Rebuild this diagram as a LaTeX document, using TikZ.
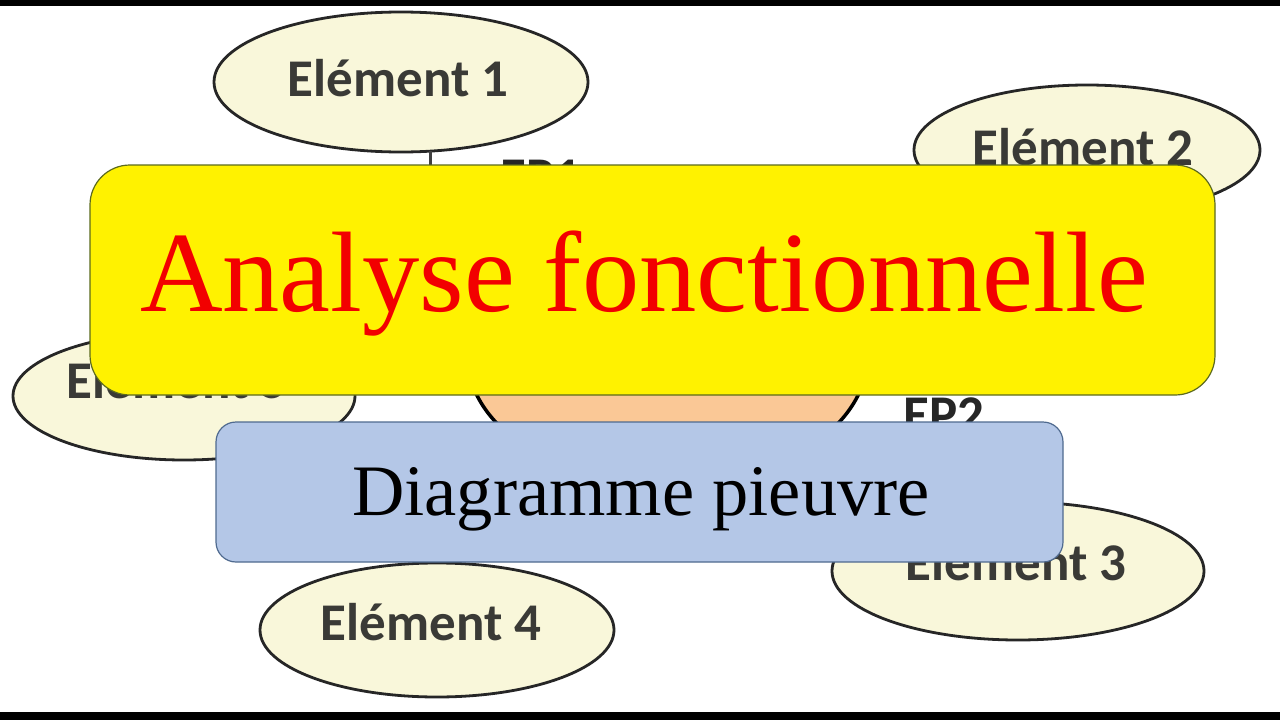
\documentclass[tikz,border=0pt]{standalone}
\usepackage{fontspec}
\setmainfont{Liberation Serif}
\newfontfamily\elfont{Carlito}
\usetikzlibrary{shapes.geometric}
\definecolor{cream}{HTML}{F9F7DA}
\definecolor{eltext}{HTML}{3A3A36}
\definecolor{orangefill}{HTML}{FAC896}
\definecolor{ybord}{HTML}{5C6A1E}
\definecolor{bluefill}{HTML}{B4C7E7}
\definecolor{bbord}{HTML}{4F6A8F}
\definecolor{titlered}{HTML}{F20000}
\tikzset{
  elem/.style={ellipse, draw=black!85, line width=2.8pt, fill=cream, inner sep=0pt},
  eltxt/.style={text=eltext, font=\elfont\bfseries\fontsize{53}{58}\selectfont, anchor=base, inner sep=0pt},
  eplabel/.style={text=black!85, font=\elfont\bfseries\fontsize{53}{58}\selectfont, anchor=base, inner sep=0pt},
  link/.style={draw=black!75, line width=3pt},
  titlebox/.style={rectangle, rounded corners=40pt, fill=yellow, draw=ybord, line width=1.2pt, inner sep=0pt},
  subbox/.style={rectangle, rounded corners=20pt, fill=bluefill, draw=bbord, line width=1.2pt, inner sep=0pt}
}
\begin{document}
\begin{tikzpicture}[x=1pt,y=-1pt]
\useasboundingbox (0,0) rectangle (1280,720);
\fill[white] (0,0) rectangle (1280,720);
\fill[black] (0,0) rectangle (1280,6);
\fill[black] (0,712) rectangle (1280,720);
% central product ellipse
\node[ellipse, draw=black, line width=3.5pt, fill=orangefill, minimum width=400pt, minimum height=258pt, inner sep=0pt] (prod) at (667.5,356) {};
% element ellipses
\node[elem, minimum width=374pt, minimum height=140pt] (e1) at (401,82) {};
\node[elem, minimum width=346pt, minimum height=130pt] (e2) at (1087,150) {};
\node[elem, minimum width=372pt, minimum height=138pt] (e3) at (1018,571) {};
\node[elem, minimum width=354pt, minimum height=134pt] (e4) at (437,630) {};
\node[elem, minimum width=342pt, minimum height=128pt] (e5) at (184,396) {};
\node[eltxt] (t1) at (398,96) {Elément 1};
\node[eltxt] (t2) at (1083,165) {Elément 2};
\node[eltxt] (t3) at (1016,580) {Elément 3};
\node[eltxt] (t4) at (431,640) {Elément 4};
\node[eltxt] (t5) at (177,398) {Elément 5};
% connector element 1 to product
\coordinate (c1) at (430,151);
\draw[link] (c1) -- (prod.north west -| c1);
% function labels
\node[eplabel] (ep1) at (541,194) {EP1};
\node[eplabel] (ep2) at (944,432) {EP2};
% title boxes
\node[titlebox, minimum width=1125pt, minimum height=230pt] (tbox) at (652.5,280) {};
\node[anchor=base, inner sep=0pt, text=titlered, font=\fontsize{114.5}{120}\selectfont] (title) at (644,311) {Analyse fonctionnelle};
\node[subbox, minimum width=847pt, minimum height=140pt] (sbox) at (639.5,492) {};
\node[anchor=base, inner sep=0pt, text=black, font=\fontsize{72.5}{80}\selectfont] (sub) at (641,515) {Diagramme pieuvre};
\end{tikzpicture}
\end{document}
